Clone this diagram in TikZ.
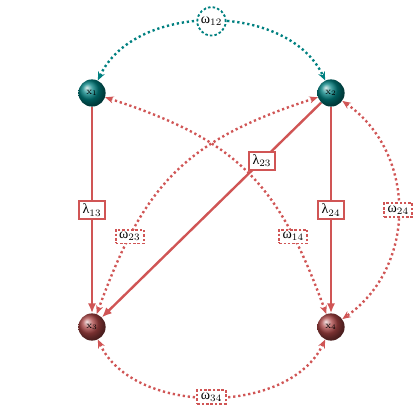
\documentclass[tikz,border=0pt]{standalone}
\usepackage{fontspec}
\newfontfamily\grk{Liberation Serif}
\usetikzlibrary{arrows.meta}
\definecolor{tealc}{RGB}{0,128,128}
\definecolor{redc}{RGB}{208,85,85}
\definecolor{ballred}{RGB}{170,68,68}
\newcommand{\gl}[2]{{\grk #1}$_{#2}$}
\begin{document}
\begin{tikzpicture}[x=0.025cm,y=0.025cm,
  var/.style={circle,minimum size=0.68cm,inner sep=0pt,font=\scriptsize},
  tealvar/.style={var,ball color=tealc},
  redvar/.style={var,ball color=ballred},
  loading/.style={draw=redc,line width=1.7pt,-{Latex[length=7pt,width=6pt]}},
  covr/.style={draw=redc,line width=1.7pt,dash pattern=on 1.6pt off 2pt,
    {Stealth[length=6pt,width=5pt]}-{Stealth[length=6pt,width=5pt]}},
  covt/.style={covr,draw=tealc},
  lbox/.style={draw=redc,fill=white,line width=1.4pt,inner xsep=2.5pt,inner ysep=2.2pt,font=\normalsize},
  wbox/.style={draw=redc,fill=white,line width=1.3pt,dash pattern=on 1.8pt off 1.3pt,inner xsep=2.5pt,inner ysep=1.8pt,font=\normalsize},
  wcirc/.style={circle,draw=tealc,fill=white,line width=1.3pt,dash pattern=on 1.8pt off 1.5pt,inner sep=1.5pt,font=\normalsize},
]
\useasboundingbox (0,0) rectangle (420,420);
\node[tealvar] (x1) at (92,327) {$\mathrm{x}_1$};
\node[tealvar] (x2) at (331,327) {$\mathrm{x}_2$};
\node[redvar] (x3) at (92,93) {$\mathrm{x}_3$};
\node[redvar] (x4) at (331,93) {$\mathrm{x}_4$};

\draw[loading] (x1) -- node[lbox] (l13) {\gl{λ}{13}} (x3);
\draw[loading] (x2) -- node[lbox] (l24) {\gl{λ}{24}} (x4);

\draw[covt] (x1) to[out=65,in=115,looseness=0.98] node[wcirc] (w12) {\gl{ω}{12}} (x2);
\draw[covr] (x3) to[out=-65,in=-115,looseness=0.95] node[wbox] (w34) {\gl{ω}{34}} (x4);
\draw[covr] (x2) to[out=-35,in=35,looseness=1.07] node[wbox] (w24) {\gl{ω}{24}} (x4);
\draw[covr] (x1) to[out=-18,in=110,looseness=1.15] node[wbox,pos=0.77] (w14) {\gl{ω}{14}} (x4);
\draw[covr] (x2) to[out=198,in=70,looseness=1.15] node[wbox,pos=0.77] (w23) {\gl{ω}{23}} (x3);

\draw[loading] (x2) -- node[lbox,pos=0.27] (l23) {\gl{λ}{23}} (x3);
\end{tikzpicture}
\end{document}
